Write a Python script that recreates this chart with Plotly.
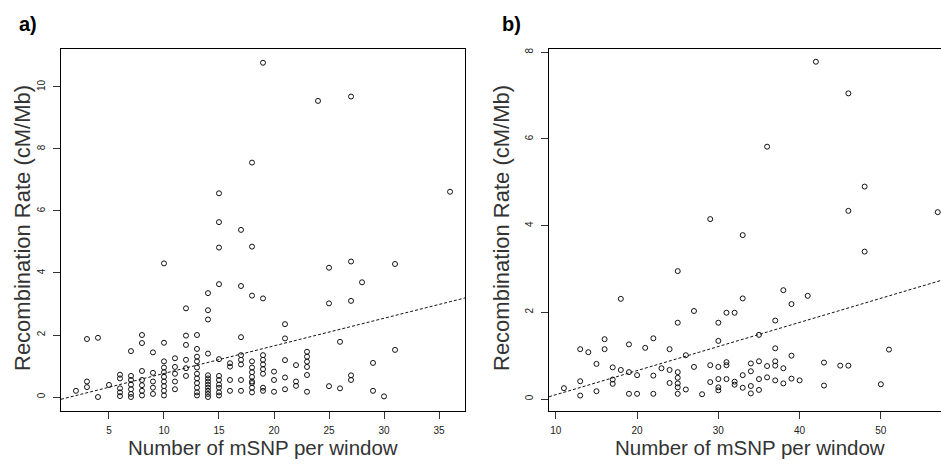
import numpy as np
import plotly.graph_objects as go

# ---------------- data: panel a ----------------
a_cols = {
    2: [0.2],
    3: [1.87, 0.5, 0.32],
    4: [1.91, 0.0],
    5: [0.39],
    6: [0.72, 0.6, 0.28, 0.15, 0.03],
    7: [1.48, 0.68, 0.55, 0.4, 0.25, 0.1, 0.0],
    8: [2.0, 1.74, 0.84, 0.55, 0.38, 0.2, 0.05],
    9: [1.44, 0.78, 0.5, 0.3, 0.1],
    10: [4.31, 1.75, 1.15, 0.95, 0.8, 0.65, 0.5, 0.35, 0.2, 0.05],
    11: [1.25, 0.97, 0.75, 0.5, 0.25],
    12: [2.86, 1.98, 1.68, 1.2, 0.93, 0.68],
    13: [2.0, 1.55, 1.3, 1.15, 0.95, 0.75, 0.6, 0.45, 0.3, 0.15, 0.05],
    14: [3.35, 2.8, 2.5, 1.4, 0.7, 0.6, 0.5, 0.4, 0.3, 0.2, 0.1, 0.0],
    15: [6.57, 5.64, 4.82, 3.64, 1.22, 0.68, 0.55, 0.4, 0.3, 0.15, 0.05],
    16: [1.09, 0.98, 0.55, 0.2],
    17: [5.39, 3.58, 1.93, 1.35, 1.2, 1.05, 0.55, 0.2],
    18: [7.56, 4.85, 3.27, 1.15, 0.95, 0.8, 0.65, 0.5, 0.45, 0.3, 0.15],
    19: [10.78, 3.18, 1.35, 1.2, 1.05, 0.9, 0.75, 0.3, 0.2],
    20: [0.82, 0.55, 0.17],
    21: [2.35, 1.89, 1.19, 0.63, 0.25],
    22: [1.03, 0.5, 0.36],
    23: [1.46, 1.3, 1.14, 0.97, 0.71, 0.17],
    24: [9.55],
    25: [4.17, 3.02, 0.35],
    26: [1.78, 0.28],
    27: [9.69, 4.37, 3.1, 0.7, 0.55],
    28: [3.70],
    29: [1.1, 0.2],
    30: [0.02],
    31: [4.29, 1.52],
    36: [6.62],
}
x_a = [k for k, v in a_cols.items() for _ in v]
y_a = [y for v in a_cols.values() for y in v]
fit_a = (-0.13, 0.089)   # intercept, slope

# ---------------- data: panel b ----------------
b_cols = {
    11: [0.25],
    13: [1.15, 0.41, 0.08],
    14: [1.08],
    15: [0.81, 0.18],
    16: [1.38, 1.15],
    17: [0.73, 0.45, 0.35],
    18: [2.31, 0.67],
    19: [1.26, 0.62, 0.12],
    20: [0.55, 0.12],
    21: [1.18],
    22: [1.4, 0.54, 0.12],
    23: [0.71],
    24: [1.15, 0.67, 0.37],
    25: [2.95, 1.76, 0.62, 0.49, 0.36, 0.27, 0.12],
    26: [1.01, 0.22],
    27: [2.03, 0.74],
    28: [0.11],
    29: [4.15, 0.78, 0.39],
    30: [1.76, 1.34, 0.74, 0.46, 0.27, 0.2],
    31: [1.99, 0.85, 0.78, 0.46],
    32: [1.99, 0.4, 0.33],
    33: [3.78, 2.32, 0.55, 0.26],
    34: [0.82, 0.64, 0.3, 0.13],
    35: [1.48, 0.87, 0.46, 0.21],
    36: [5.82, 0.76, 0.5],
    37: [1.81, 1.17, 0.87, 0.77, 0.43],
    38: [2.51, 0.71, 0.36],
    39: [2.19, 1.0, 0.47],
    40: [0.43],
    41: [2.38],
    42: [7.78],
    43: [0.84, 0.31],
    45: [0.77],
    46: [7.05, 4.34, 0.77],
    48: [4.9, 3.4],
    50: [0.34],
    51: [1.14],
    57: [4.31],
}
x_b = [k for k, v in b_cols.items() for _ in v]
y_b = [y for v in b_cols.values() for y in v]
fit_b = (-0.457, 0.0556)

xt_a = [5, 10, 15, 20, 25, 30, 35]
yt_a = [0, 2, 4, 6, 8, 10]
xt_b = [10, 20, 30, 40, 50]
yt_b = [0, 2, 4, 6, 8]

xr_a = [0.64, 37.36]
yr_a = [-0.435, 11.24]
xr_b = [9.16, 57.4]
yr_b = [-0.265, 8.085]

FONT = "Liberation Sans, Arial, Helvetica, sans-serif"
W, H = 941, 466

fig = go.Figure()
mk = dict(symbol="circle-open", size=5, color="#111", line=dict(width=1, color="#111"))
fig.add_trace(go.Scatter(x=x_a, y=y_a, mode="markers", marker=mk, xaxis="x", yaxis="y",
                         showlegend=False, hoverinfo="skip"))
fig.add_trace(go.Scatter(x=x_b, y=y_b, mode="markers", marker=mk, xaxis="x2", yaxis="y2",
                         showlegend=False, hoverinfo="skip"))

lx_a = np.array(xr_a)
fig.add_trace(go.Scatter(x=lx_a, y=fit_a[0] + fit_a[1] * lx_a, mode="lines",
                         line=dict(color="#111", width=1, dash="3px,2px"),
                         xaxis="x", yaxis="y", showlegend=False, hoverinfo="skip"))
lx_b = np.array(xr_b)
fig.add_trace(go.Scatter(x=lx_b, y=fit_b[0] + fit_b[1] * lx_b, mode="lines",
                         line=dict(color="#111", width=1, dash="3px,2px"),
                         xaxis="x2", yaxis="y2", showlegend=False, hoverinfo="skip"))

top, bot = 48.5, 410.5
ydom = [1 - bot / H, 1 - top / H]
tickfont = dict(family=FONT, size=10, color="#222")
common = dict(showgrid=False, zeroline=False, showline=True, linecolor="black", linewidth=1,
              ticks="outside", ticklen=7, tickcolor="#333", tickwidth=1, tickfont=tickfont)

fig.update_layout(
    width=W, height=H,
    margin=dict(l=0, r=0, t=0, b=0),
    paper_bgcolor="white", plot_bgcolor="white",
    xaxis=dict(domain=[61 / W, 465 / W], range=xr_a, tickvals=xt_a, mirror=True,
               anchor="y", ticklabelstandoff=3, **common),
    yaxis=dict(domain=ydom, range=yr_a, tickvals=yt_a, mirror=True, tickangle=-90,
               anchor="x", ticklabelstandoff=4, **common),
    xaxis2=dict(domain=[549 / W, 1.0], range=xr_b, tickvals=xt_b, mirror=True,
                anchor="y2", ticklabelstandoff=3, **common),
    yaxis2=dict(domain=ydom, range=yr_b, tickvals=yt_b, mirror=False, tickangle=-90,
                anchor="x2", ticklabelstandoff=4, **common),
)

xtitle_font = dict(family=FONT, size=20.5, color="#333")
ytitle_font = dict(family=FONT, size=22, color="#333")
ann = [
    dict(text="<b>a)</b>", x=28 / W, y=1 - 24 / H, font=dict(family=FONT, size=20, color="black")),
    dict(text="<b>b)</b>", x=511 / W, y=1 - 24 / H, font=dict(family=FONT, size=20, color="black")),
    dict(text="Number of mSNP per window", x=263 / W, y=1 - 447 / H, font=xtitle_font),
    dict(text="Number of mSNP per window", x=750 / W, y=1 - 447 / H, font=xtitle_font),
    dict(text="Recombination Rate (cM/Mb)", x=22 / W, y=1 - 228 / H, textangle=-90, font=ytitle_font),
    dict(text="Recombination Rate (cM/Mb)", x=501 / W, y=1 - 228 / H, textangle=-90, font=ytitle_font),
]
for a in ann:
    a.update(xref="paper", yref="paper", showarrow=False, xanchor="center", yanchor="middle")
fig.update_layout(annotations=ann)

fig.write_html("out.html")
